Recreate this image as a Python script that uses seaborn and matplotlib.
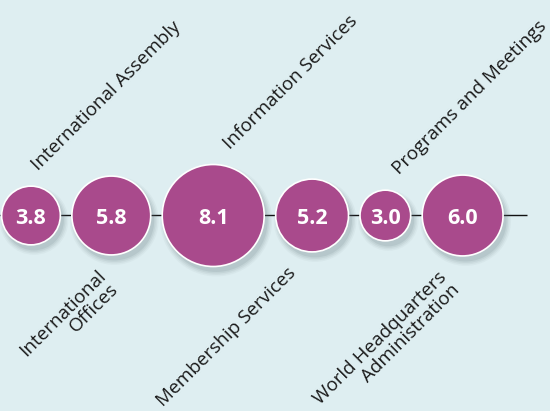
import numpy as np
import pandas as pd
import matplotlib
matplotlib.use("Agg")
import matplotlib.pyplot as plt
import seaborn as sns

# ---- data ----
categories = [
    "International Assembly",
    "International\nOffices",
    "Information Services",
    "Membership Services",
    "Programs and Meetings",
    "World Headquarters\nAdministration",
]
values = [3.8, 5.8, 8.1, 5.2, 3.0, 6.0]
value_labels = ["3.8", "5.8", "8.1", "5.2", "3.0", "6.0"]
label_side = ["above", "below", "above", "below", "above", "below"]

# ---- layout nudges for category labels (pixels, relative to bubble centre) ----
label_dx = [7, -15, 17, -25, 14, -25]

# ---- style ----
BG = "#deeef1"
FILL = "#a94a8c"
SHADOW = "#5f7178"
FONT = ["Open Sans", "DejaVu Sans"]

sns.set_theme(style="white")
plt.rcParams["font.family"] = FONT

W, H, DPI = 5.5, 4.11, 100
PX2PT = 72.0 / DPI

# layout (pixel units on an axes that spans the whole figure)
line_y = 215.5
x_start = 31.0
gap = 11.5
radii = [10.25 + 5.03 * v for v in values]
xs = []
for i, r in enumerate(radii):
    if i == 0:
        xs.append(x_start)
    else:
        xs.append(xs[-1] + radii[i - 1] + gap + r)

df = pd.DataFrame({"x": xs, "y": [line_y] * len(values), "value": values,
                   "cat": categories, "r": radii})

def area_pt2(r_px):
    return (2 * r_px * PX2PT) ** 2

fig = plt.figure(figsize=(W, H), dpi=DPI)
fig.patch.set_facecolor(BG)
ax = fig.add_axes([0, 0, 1, 1])
ax.set_facecolor(BG)

# connecting line
line_end = xs[-1] + radii[-1] + 24
ax.plot([0, line_end], [line_y, line_y], color="#111111", lw=1.0, zorder=1,
        solid_capstyle="butt")

# soft shadows
shadow_df = df.copy()
shadow_df["x"] = df["x"] + 3
shadow_df["y"] = df["y"] + 5
for grow, alpha in [(5, 0.05), (3.5, 0.07), (2, 0.09), (0.5, 0.12)]:
    sns.scatterplot(data=shadow_df, x="x", y="y", size="value",
                    sizes={v: area_pt2(r + grow) for v, r in zip(values, radii)},
                    color=SHADOW, alpha=alpha, linewidth=0, legend=False,
                    ax=ax, zorder=2)

# bubbles
sns.scatterplot(data=df, x="x", y="y", size="value",
                sizes={v: area_pt2(r) for v, r in zip(values, radii)},
                color=FILL, edgecolor="white", linewidth=1.2, legend=False,
                ax=ax, zorder=3)
ax.set_xlim(0, W * DPI)
ax.set_ylim(H * DPI, 0)
ax.axis("off")

# value labels
for x, y, t in zip(xs, df["y"], value_labels):
    ax.text(x, y + 1, t, color="white", fontsize=15.5, fontweight="bold",
            ha="center", va="center_baseline", zorder=4, family=FONT)

# category labels
ANG = 45
for x, r, cat, side, dx in zip(xs, radii, categories, label_side, label_dx):
    if side == "above":
        ax.text(x + dx, line_y - r - 15, cat, rotation=ANG,
                rotation_mode="anchor", ha="left", va="baseline",
                fontsize=13.6, color="#1a1a1a", zorder=4, family=FONT)
    else:
        ax.text(x + dx, line_y + r + 12, cat, rotation=ANG,
                rotation_mode="anchor", ha="right", va="top",
                multialignment="right", linespacing=1.0,
                fontsize=13.6, color="#1a1a1a", zorder=4, family=FONT)

fig.savefig("out.png", dpi=DPI, facecolor=BG)
